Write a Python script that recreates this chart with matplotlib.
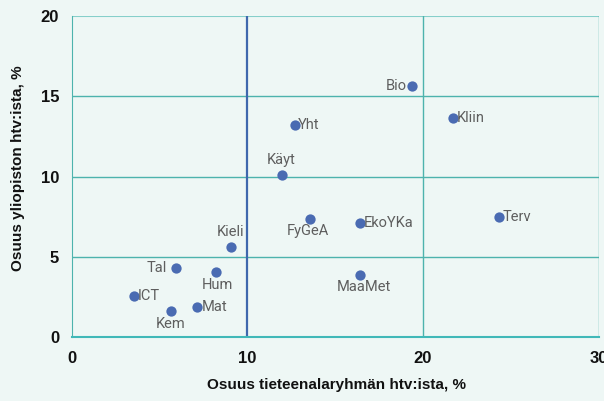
import matplotlib.pyplot as plt

# Data
labels = ['Bio', 'Kliin', 'Yht', 'Käyt', 'FyGeA', 'EkoYKa', 'Terv', 'Kieli',
          'Tal', 'Hum', 'MaaMet', 'ICT', 'Mat', 'Kem']
x_share = [19.4, 21.7, 12.7, 12.0, 13.55, 16.4, 24.3, 9.05,
           5.95, 8.2, 16.4, 3.55, 7.15, 5.65]
y_share = [15.65, 13.65, 13.2, 10.1, 7.4, 7.15, 7.5, 5.6,
           4.35, 4.05, 3.9, 2.55, 1.9, 1.65]

# label placement: (dx, dy, ha, va) in points
offsets = {
    'Bio': (-4, 0, 'right', 'center'),
    'Kliin': (3, 0, 'left', 'center'),
    'Yht': (2, 0, 'left', 'center'),
    'Käyt': (-1, 6, 'center', 'bottom'),
    'FyGeA': (-1, -4, 'center', 'top'),
    'EkoYKa': (3, 0, 'left', 'center'),
    'Terv': (3, 0, 'left', 'center'),
    'Kieli': (0, 6, 'center', 'bottom'),
    'Tal': (-7, 0, 'right', 'center'),
    'Hum': (1, -4, 'center', 'top'),
    'MaaMet': (3, -4, 'center', 'top'),
    'ICT': (3, 0, 'left', 'center'),
    'Mat': (3, 0, 'left', 'center'),
    'Kem': (0, -4, 'center', 'top'),
}

bg = '#eef7f5'
grid_col = '#4db3ad'
dot_col = '#4a6bb2'

plt.rcParams['font.family'] = ['Liberation Sans', 'DejaVu Sans']

fig = plt.figure(figsize=(6.04, 4.01), dpi=100, facecolor=bg)
ax = fig.add_axes([0.1184, 0.1584, 0.873, 0.8016])
ax.set_facecolor(bg)

ax.set_xlim(0, 30)
ax.set_ylim(0, 20)

for yv in [5, 10, 15]:
    ax.axhline(yv, color=grid_col, lw=1.0, zorder=1)
ax.axhline(20, color='#86cfca', lw=1.5, zorder=1)
ax.axvline(20, color=grid_col, lw=1.0, zorder=1)
ax.axvline(30, color=grid_col, lw=1.0, zorder=1)
ax.axvline(10, color='#3f68ad', lw=1.6, zorder=2)

for s in ['top', 'right']:
    ax.spines[s].set_visible(False)
ax.spines['left'].set_color(grid_col)
ax.spines['bottom'].set_color('#40b8b8')
ax.spines['bottom'].set_linewidth(1.5)

ax.scatter(x_share, y_share, s=55, color=dot_col, zorder=3, linewidths=0)
for lab, xv, yv in zip(labels, x_share, y_share):
    dx, dy, ha, va = offsets[lab]
    ax.annotate(lab, (xv, yv), xytext=(dx, dy), textcoords='offset points',
                ha=ha, va=va, fontsize=10.5, color='#5e5e5e',
                family=['Roboto', 'DejaVu Sans'], zorder=4)

ax.set_xticks([0, 10, 20, 30])
ax.set_yticks([0, 5, 10, 15, 20])
ax.tick_params(length=0, labelsize=12, labelcolor='#111111')
ax.tick_params(axis='x', pad=10)
ax.tick_params(axis='y', pad=9)
for t in ax.get_xticklabels() + ax.get_yticklabels():
    t.set_fontweight('bold')

ax.set_xlabel('Osuus tieteenalaryhmän htv:ista, %', fontsize=11,
              fontweight='bold', color='#111111')
ax.set_ylabel('Osuus yliopiston htv:ista, %', fontsize=11,
              fontweight='bold', color='#111111')
ax.xaxis.set_label_coords(0.502, -0.127)
ax.yaxis.set_label_coords(-0.088, 0.528)

fig.savefig('out.png', dpi=100, facecolor=bg)
